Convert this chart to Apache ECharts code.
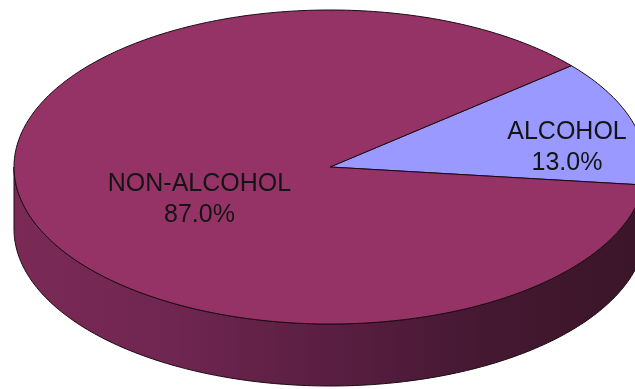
<!DOCTYPE html>
<html>
<head>
<meta charset="utf-8">
<style>
  html, body { margin: 0; padding: 0; background: #ffffff; }
  #chart { width: 635px; height: 389px; }
</style>
<script src="https://cdn.jsdelivr.net/npm/echarts@6/dist/echarts.min.js"></script>
</head>
<body>
<div id="chart"></div>
<script>
// Drink sales split
const categories = ['ALCOHOL', 'NON-ALCOHOL'];
const shares = [13.0, 87.0];

// Appearance
const topColors = ['#9999ff', '#963366'];
const sideStops = [
  [{ offset: 0, color: '#5c5cae' }, { offset: 1, color: '#34346a' }],
  [
    { offset: 0, color: '#7b2a56' },
    { offset: 0.25, color: '#6f2650' },
    { offset: 0.5, color: '#5a1e42' },
    { offset: 0.75, color: '#441831' },
    { offset: 1, color: '#3b1529' }
  ]
];
// label anchor as a fraction of the ellipse radii, measured from the centre
const labelSpots = [[0.75, -0.125], [-0.413, 0.205]];

// Tilted disc geometry
const geo = { cx: 330, cy: 167, rx: 316, ry: 157, depth: 62, startAngle: 40.2 };

const total = shares.reduce((a, b) => a + b, 0);
const startOf = shares.map((_, i) =>
  geo.startAngle - shares.slice(0, i).reduce((a, b) => a + b, 0) / total * 360);

const rad = d => d * Math.PI / 180;
const pt = (deg, dy) => [geo.cx + geo.rx * Math.cos(rad(deg)), geo.cy - geo.ry * Math.sin(rad(deg)) + (dy || 0)];

function arc(from, to, dy) {
  const n = Math.max(2, Math.ceil(Math.abs(to - from) / 1));
  const out = [];
  for (let k = 0; k <= n; k++) out.push(pt(from + (to - from) * k / n, dy));
  return out;
}

// parts of [lo, hi] that face the viewer (lower half of the ellipse)
function frontRanges(lo, hi) {
  const res = [];
  for (let k = -2; k <= 2; k++) {
    const a = Math.max(lo, -180 + 360 * k);
    const b = Math.min(hi, 360 * k);
    if (a < b) res.push([a, b]);
  }
  return res;
}

function angles(i, v) {
  const a0 = startOf[i];
  const a1 = a0 - v / total * 360;
  return [a1, a0];
}

const chart = echarts.init(document.getElementById('chart'), null, { renderer: 'canvas' });

const data = shares.map((v, i) => ({ name: categories[i], value: v }));

chart.setOption({
  animation: false,
  backgroundColor: '#ffffff',
  series: [
    {
      // side walls
      type: 'custom',
      coordinateSystem: 'none',
      z: 1,
      data: data,
      renderItem: function (params, api) {
        const i = params.dataIndex;
        const [lo, hi] = angles(i, api.value(0));
        const children = frontRanges(lo, hi).map(([a, b]) => {
          const top = arc(b, a, 0);
          const bottom = arc(a, b, geo.depth);
          return {
            type: 'polygon',
            shape: { points: top.concat(bottom) },
            style: {
              fill: {
                type: 'linear', global: true,
                x: geo.cx - geo.rx, y: 0, x2: geo.cx + geo.rx, y2: 0,
                colorStops: sideStops[i]
              },
              stroke: '#1c0a14',
              lineWidth: 1
            }
          };
        });
        return { type: 'group', children: children };
      }
    },
    {
      // top faces and labels
      type: 'custom',
      coordinateSystem: 'none',
      z: 2,
      data: data,
      renderItem: function (params, api) {
        const i = params.dataIndex;
        const v = api.value(0);
        const [lo, hi] = angles(i, v);
        const pts = [[geo.cx, geo.cy]].concat(arc(hi, lo, 0));
        const lx = geo.cx + labelSpots[i][0] * geo.rx;
        const ly = geo.cy + labelSpots[i][1] * geo.ry;
        return {
          type: 'group',
          children: [
            {
              type: 'polygon',
              shape: { points: pts },
              style: { fill: topColors[i], stroke: '#1c0a14', lineWidth: 1, lineJoin: 'round' }
            },
            {
              type: 'text',
              z2: 10,
              style: {
                x: lx, y: ly,
                text: categories[i] + '\n' + (v / total * 100).toFixed(1) + '%',
                fill: '#141414',
                font: '25px "Liberation Sans", Arial, sans-serif',
                lineHeight: 31,
                align: 'center',
                verticalAlign: 'middle'
              }
            }
          ]
        };
      }
    }
  ]
});
</script>
</body>
</html>
